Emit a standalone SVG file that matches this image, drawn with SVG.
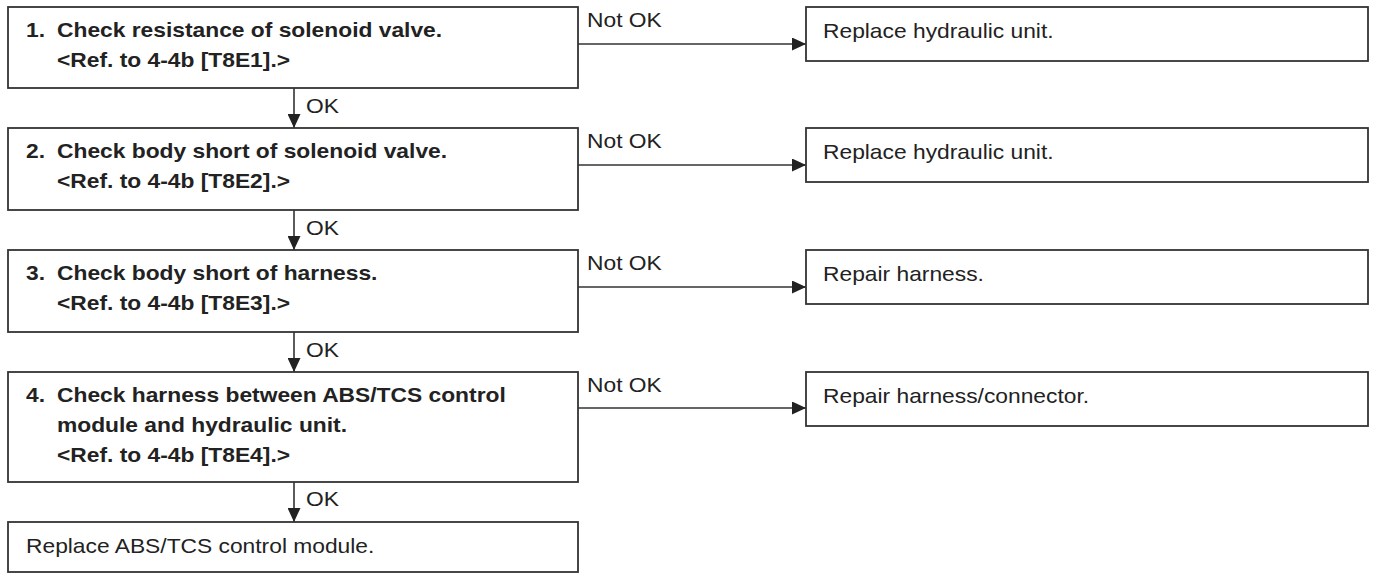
<svg xmlns="http://www.w3.org/2000/svg" width="1375" height="575" viewBox="0 0 1375 575">
<style>
.box{fill:#fff;stroke:#333;stroke-width:1.8}
.ln{fill:none;stroke:#333;stroke-width:1.6}
.b{font-family:"Liberation Sans",Arial,sans-serif;font-weight:bold;font-size:20px;fill:#222}
.r{font-family:"Liberation Sans",Arial,sans-serif;font-size:20px;fill:#222}
</style>
<defs>
<marker id="ah" markerUnits="userSpaceOnUse" markerWidth="14" markerHeight="13" refX="14" refY="6.5" orient="auto">
<path d="M0,0 L14,6.5 L0,13 Z" fill="#222"/>
</marker>
</defs>
<rect width="1375" height="575" fill="#fff"/>

<g id="connectors">
<line class="ln" x1="294" y1="88" x2="294" y2="128" marker-end="url(#ah)"/>
<line class="ln" x1="294" y1="210" x2="294" y2="250" marker-end="url(#ah)"/>
<line class="ln" x1="294" y1="332" x2="294" y2="372" marker-end="url(#ah)"/>
<line class="ln" x1="294" y1="482" x2="294" y2="522" marker-end="url(#ah)"/>
<line class="ln" x1="578" y1="44" x2="806" y2="44" marker-end="url(#ah)"/>
<line class="ln" x1="578" y1="165" x2="806" y2="165" marker-end="url(#ah)"/>
<line class="ln" x1="578" y1="287" x2="806" y2="287" marker-end="url(#ah)"/>
<line class="ln" x1="578" y1="408" x2="806" y2="408" marker-end="url(#ah)"/>
<g transform="translate(306,113) scale(1.14,1)"><text class="r">OK</text></g>
<g transform="translate(306,235) scale(1.14,1)"><text class="r">OK</text></g>
<g transform="translate(306,357) scale(1.14,1)"><text class="r">OK</text></g>
<g transform="translate(306,506) scale(1.14,1)"><text class="r">OK</text></g>
<g transform="translate(587,27) scale(1.14,1)"><text class="r">Not OK</text></g>
<g transform="translate(587,148) scale(1.14,1)"><text class="r">Not OK</text></g>
<g transform="translate(587,270) scale(1.14,1)"><text class="r">Not OK</text></g>
<g transform="translate(587,392) scale(1.14,1)"><text class="r">Not OK</text></g>
</g>

<g id="step1">
<rect class="box" x="8" y="7" width="570" height="81"/>
<g transform="translate(26,7) scale(1.14,1)">
<text class="b" y="30">1.</text><text class="b" x="27.2" y="30">Check resistance of solenoid valve.</text>
<text class="b" x="27.2" y="60">&lt;Ref. to 4-4b [T8E1].&gt;</text>
</g>
</g>

<g id="step2">
<rect class="box" x="8" y="128" width="570" height="82"/>
<g transform="translate(26,128) scale(1.14,1)">
<text class="b" y="30">2.</text><text class="b" x="27.2" y="30">Check body short of solenoid valve.</text>
<text class="b" x="27.2" y="60">&lt;Ref. to 4-4b [T8E2].&gt;</text>
</g>
</g>

<g id="step3">
<rect class="box" x="8" y="250" width="570" height="82"/>
<g transform="translate(26,250) scale(1.14,1)">
<text class="b" y="30">3.</text><text class="b" x="27.2" y="30">Check body short of harness.</text>
<text class="b" x="27.2" y="60">&lt;Ref. to 4-4b [T8E3].&gt;</text>
</g>
</g>

<g id="step4">
<rect class="box" x="8" y="372" width="570" height="110"/>
<g transform="translate(26,372) scale(1.14,1)">
<text class="b" y="30">4.</text><text class="b" x="27.2" y="30">Check harness between ABS/TCS control</text>
<text class="b" x="27.2" y="60">module and hydraulic unit.</text>
<text class="b" x="27.2" y="90">&lt;Ref. to 4-4b [T8E4].&gt;</text>
</g>
</g>

<g id="replace-module">
<rect class="box" x="8" y="522" width="570" height="50"/>
<g transform="translate(26,553) scale(1.14,1)"><text class="r">Replace ABS/TCS control module.</text></g>
</g>

<g id="result1">
<rect class="box" x="806" y="7" width="562" height="54"/>
<g transform="translate(823,38) scale(1.14,1)"><text class="r">Replace hydraulic unit.</text></g>
</g>

<g id="result2">
<rect class="box" x="806" y="128" width="562" height="54"/>
<g transform="translate(823,159) scale(1.14,1)"><text class="r">Replace hydraulic unit.</text></g>
</g>

<g id="result3">
<rect class="box" x="806" y="250" width="562" height="54"/>
<g transform="translate(823,281) scale(1.14,1)"><text class="r">Repair harness.</text></g>
</g>

<g id="result4">
<rect class="box" x="806" y="372" width="562" height="54"/>
<g transform="translate(823,403) scale(1.14,1)"><text class="r">Repair harness/connector.</text></g>
</g>
</svg>
